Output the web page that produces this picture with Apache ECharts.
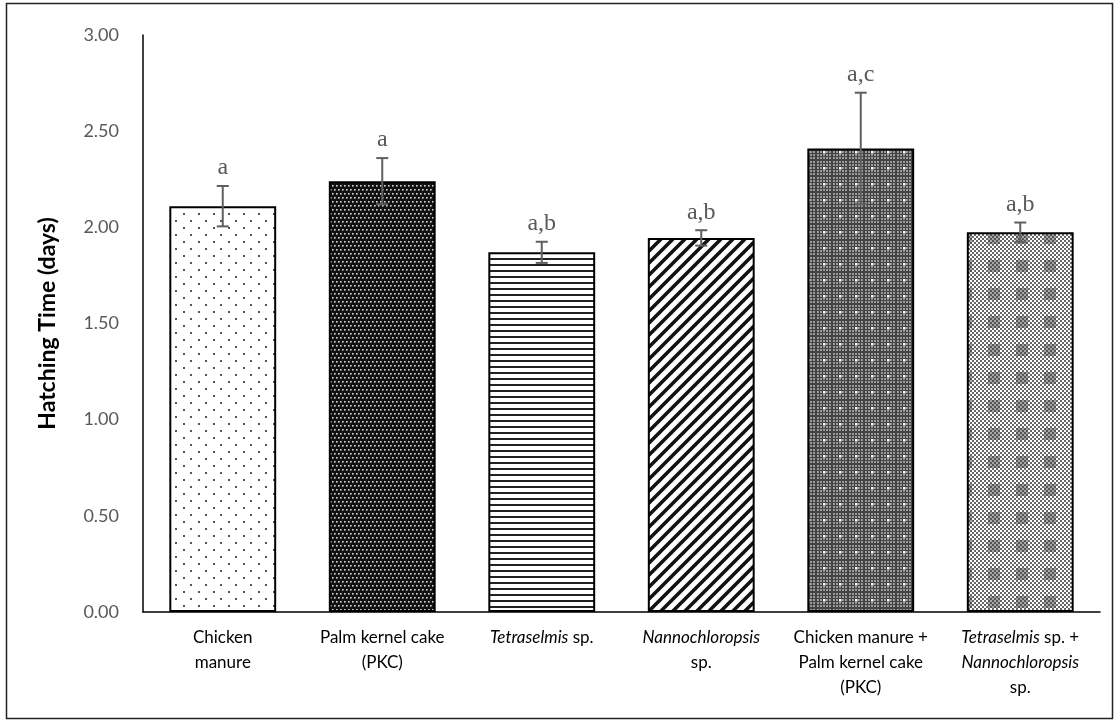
<!DOCTYPE html>
<html>
<head>
<meta charset="utf-8">
<script src="https://cdn.jsdelivr.net/npm/echarts@6/dist/echarts.min.js"></script>
<style>
  html, body { margin: 0; padding: 0; background: #fff; }
  #chart { width: 1119px; height: 722px; }
</style>
</head>
<body>
<div id="chart"></div>
<script>
  // data
  const categories = ['Chicken manure', 'Palm kernel cake (PKC)', 'Tetraselmis sp.', 'Nannochloropsis sp.',
    'Chicken manure + Palm kernel cake (PKC)', 'Tetraselmis sp. + Nannochloropsis sp.'];
  const means = [2.11, 2.24, 1.87, 1.945, 2.41, 1.975];
  const errors = [0.105, 0.12, 0.055, 0.04, 0.29, 0.05];
  const letters = ['a', 'a', 'a,b', 'a,b', 'a,c', 'a,b'];
  const yTicks = [0, 0.5, 1, 1.5, 2, 2.5, 3];

  // x labels with italic genus names (rich text)
  const xLabels = [
    'Chicken\nmanure',
    'Palm kernel cake\n(PKC)',
    '{i|Tetraselmis} sp.',
    '{i|Nannochloropsis}\nsp.',
    'Chicken manure +\nPalm kernel cake\n(PKC)',
    '{i|Tetraselmis} sp. +\n{i|Nannochloropsis}\nsp.'
  ];

  function mk(w, h, draw) {
    const c = document.createElement('canvas');
    c.width = w; c.height = h;
    const ctx = c.getContext('2d');
    draw(ctx, w, h);
    return { image: c, repeat: 'repeat' };
  }

  const patterns = [
    // sparse dots
    mk(15, 14, function (ctx, w, h) {
      ctx.fillStyle = '#fff'; ctx.fillRect(0, 0, w, h);
      ctx.fillStyle = '#555';
      ctx.fillRect(3, 3, 2, 2);
      ctx.fillRect(10, 10, 2, 2);
    }),
    // dark dotted with bands
    mk(8, 16, function (ctx, w, h) {
      ctx.fillStyle = '#111'; ctx.fillRect(0, 0, w, h);
      ctx.fillStyle = '#ddd';
      for (let y = 1; y < 14; y += 4) {
        for (let x = 0; x < w; x += 4) {
          const off = ((y - 1) / 4) % 2 ? 2 : 0;
          ctx.fillRect(x + off, y, 1.6, 1.6);
        }
      }
    }),
    // horizontal lines
    mk(4, 6, function (ctx, w, h) {
      ctx.fillStyle = '#fff'; ctx.fillRect(0, 0, w, h);
      ctx.fillStyle = '#222'; ctx.fillRect(0, 0, w, 2);
    }),
    // diagonal stripes, rising to the right
    mk(12, 12, function (ctx, w, h) {
      ctx.fillStyle = '#fff'; ctx.fillRect(0, 0, w, h);
      ctx.strokeStyle = '#111'; ctx.lineWidth = 3.5;
      for (let k = -1; k <= 1; k++) {
        ctx.beginPath();
        ctx.moveTo(k * w - 2, h + 2);
        ctx.lineTo(k * w + w + 2, -2);
        ctx.stroke();
      }
    }),
    // gray tartan with white dots
    mk(16, 16, function (ctx, w, h) {
      ctx.fillStyle = '#9a9a9a'; ctx.fillRect(0, 0, w, h);
      ctx.fillStyle = '#444';
      for (let p = 0; p < w; p += 3) {
        ctx.fillRect(p, 0, 1, h);
        ctx.fillRect(0, p, w, 1);
      }
      ctx.fillStyle = '#fff';
      ctx.fillRect(7, 7, 2.5, 2.5);
    }),
    // light checker with darker blocks
    mk(28, 28, function (ctx, w, h) {
      ctx.fillStyle = '#fff'; ctx.fillRect(0, 0, w, h);
      ctx.fillStyle = '#666';
      for (let y = 0; y < h; y += 2) {
        for (let x = (y / 2) % 2 ? 2 : 0; x < w; x += 4) {
          ctx.fillRect(x, y, 2, 2);
        }
      }
      ctx.fillStyle = 'rgba(60,60,60,0.45)';
      ctx.fillRect(8, 8, 12, 12);
    })
  ];

  const chart = echarts.init(document.getElementById('chart'));
  const labelFont = 'Lato, "Open Sans", sans-serif';

  chart.setOption({
    animation: false,
    backgroundColor: '#fff',
    graphic: [{
      type: 'rect',
      shape: { x: 6.5, y: 3.5, width: 1106, height: 715 },
      style: { fill: 'none', stroke: '#222', lineWidth: 1.5 },
      silent: true
    }],
    grid: { left: 143, right: 19, top: 35, bottom: 110 },
    xAxis: {
      type: 'category',
      data: categories,
      axisLine: { lineStyle: { color: '#000', width: 1.5 } },
      axisTick: { show: false },
      axisLabel: {
        interval: 0,
        margin: 13,
        color: '#000',
        fontFamily: labelFont,
        fontSize: 17,
        lineHeight: 25,
        formatter: function (v, i) { return xLabels[i]; },
        rich: {
          i: { fontStyle: 'italic', fontFamily: labelFont, fontSize: 17, lineHeight: 25, color: '#000' }
        }
      }
    },
    yAxis: {
      type: 'value',
      min: 0,
      max: yTicks[yTicks.length - 1],
      interval: yTicks[1] - yTicks[0],
      name: 'Hatching Time (days)',
      nameLocation: 'middle',
      nameGap: 84,
      nameTextStyle: { fontFamily: labelFont, fontWeight: 'bold', fontSize: 23, color: '#000' },
      axisLine: { show: true, lineStyle: { color: '#000', width: 1.5 } },
      axisTick: { show: false },
      splitLine: { show: false },
      axisLabel: {
        margin: 24,
        color: '#595959',
        fontFamily: labelFont,
        fontSize: 18,
        formatter: function (v) { return v.toFixed(2); }
      }
    },
    series: [{
      type: 'bar',
      barWidth: '67%',
      data: means.map(function (m, i) {
        return {
          value: m,
          itemStyle: { color: patterns[i], borderColor: '#000', borderWidth: 2 }
        };
      }),
      z: 2
    }, {
      type: 'custom',
      z: 3,
      data: means.map(function (m, i) { return [i, m, errors[i]]; }),
      renderItem: function (params, api) {
        const i = api.value(0);
        const m = api.value(1);
        const e = api.value(2);
        const top = api.coord([i, m + e]);
        const bot = api.coord([i, m - e]);
        const half = 6;
        const st = { stroke: '#5f5f5f', lineWidth: 2 };
        return {
          type: 'group',
          children: [
            { type: 'line', shape: { x1: top[0], y1: top[1], x2: bot[0], y2: bot[1] }, style: st },
            { type: 'line', shape: { x1: top[0] - half, y1: top[1], x2: top[0] + half, y2: top[1] }, style: st },
            { type: 'line', shape: { x1: bot[0] - half, y1: bot[1], x2: bot[0] + half, y2: bot[1] }, style: st },
            {
              type: 'text',
              style: {
                x: top[0], y: top[1] - 6,
                text: letters[params.dataIndex],
                align: 'center', verticalAlign: 'bottom',
                font: '24px "Liberation Serif", "DejaVu Serif", serif',
                fill: '#595959'
              }
            }
          ]
        };
      }
    }]
  });
</script>
</body>
</html>
